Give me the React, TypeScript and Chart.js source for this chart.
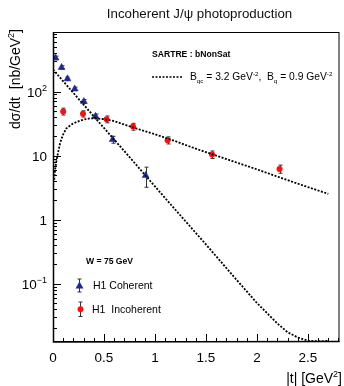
import { useEffect, useRef } from 'react';
import { Chart, registerables } from 'chart.js';

Chart.register(...registerables);

// H1 coherent J/psi points: |t| [GeV^2], dsigma/dt [nb/GeV^2], error
const coherentT = [0.025, 0.084, 0.142, 0.213, 0.303, 0.417, 0.585, 0.908];
const coherentVal = [335, 238, 158, 110, 70, 41, 17.8, 4.9];
const coherentErr = [22, 15, 10, 7, 5, 3.5, 2.2, 1.7];

// H1 incoherent J/psi points
const incoherentT = [0.1, 0.294, 0.526, 0.785, 1.124, 1.56, 2.222];
const incoherentVal = [49, 45, 37, 28.4, 17.4, 10.4, 6.2];
const incoherentErr = [6, 5, 4.5, 3.5, 2.2, 1.4, 0.9];

// SARTRE bNonSat prediction, coherent part
const sartreCohT = [0, 0.25, 0.5, 0.75, 1.0, 1.25, 1.5, 1.75, 2.0, 2.2, 2.3, 2.4, 2.5, 2.6, 2.7];
const sartreCohVal = [221, 77, 27, 9.5, 3.3, 1.16, 0.41, 0.142, 0.05, 0.024, 0.0175, 0.0145, 0.0129, 0.0126, 0.0128];

// SARTRE bNonSat prediction, incoherent part
const sartreIncT = [0.012, 0.02, 0.035, 0.05, 0.07, 0.1, 0.13, 0.18, 0.23, 0.3, 0.36, 0.42, 0.5, 0.6, 0.8, 1.0, 1.2, 1.4, 1.6, 1.8, 2.0, 2.2, 2.4, 2.6, 2.7];
const sartreIncVal = [4.2, 6.0, 8.5, 11.2, 15.8, 21.5, 26.5, 30.5, 33.5, 36.5, 38, 38, 37, 34.5, 27, 21.5, 16.8, 12.8, 10.0, 7.8, 6.1, 4.7, 3.65, 2.85, 2.53];

// axis ticks
const xMajorTicks = [0, 0.5, 1, 1.5, 2, 2.5];
const xTickLabels = ['0', '0.5', '1', '1.5', '2', '2.5'];
const yMajorTicks = [0.1, 1, 10, 100];
const yTickBase = ['10', '1', '10', '10'];
const yTickExp = ['\u22121', '', '', '2'];

const X_MIN = 0;
const X_MAX = 2.81;
const Y_MIN = 0.0123;
const Y_MAX = 850;

const FONT = '"Liberation Sans", Arial, Helvetica, sans-serif';
const NAVY = '#1f2a8c';
const RED = '#ff1010';

type Seg = { t: string; size: number; dy?: number; bold?: boolean };

function drawRich(ctx: CanvasRenderingContext2D, segs: Seg[], x: number, y: number) {
  let cx = x;
  for (const s of segs) {
    ctx.font = `${s.bold ? 'bold ' : ''}${s.size}px ${FONT}`;
    ctx.fillText(s.t, cx, y + (s.dy || 0));
    cx += ctx.measureText(s.t).width;
  }
}

function drawErrorBar(ctx: CanvasRenderingContext2D, px: number, yTop: number, yBot: number) {
  ctx.beginPath();
  ctx.moveTo(px, yTop);
  ctx.lineTo(px, yBot);
  ctx.moveTo(px - 2, yTop);
  ctx.lineTo(px + 2, yTop);
  ctx.moveTo(px - 2, yBot);
  ctx.lineTo(px + 2, yBot);
  ctx.stroke();
}

const errorBarPlugin = {
  id: 'errorBars',
  beforeDatasetsDraw(chart: any) {
    const { ctx, chartArea, scales } = chart;
    const x = scales.x;
    const y = scales.y;
    ctx.save();
    ctx.beginPath();
    ctx.rect(chartArea.left, chartArea.top, chartArea.right - chartArea.left, chartArea.bottom - chartArea.top);
    ctx.clip();
    ctx.strokeStyle = '#333';
    ctx.lineWidth = 1;
    const draw = (ts: number[], vs: number[], es: number[]) => {
      ts.forEach((t, i) => {
        const px = Math.round(x.getPixelForValue(t)) + 0.5;
        drawErrorBar(ctx, px, y.getPixelForValue(vs[i] + es[i]), y.getPixelForValue(vs[i] - es[i]));
      });
    };
    draw(coherentT, coherentVal, coherentErr);
    draw(incoherentT, incoherentVal, incoherentErr);
    ctx.restore();
  },
};

const framePlugin = {
  id: 'rootFrame',
  afterDraw(chart: any) {
    const { ctx, chartArea, scales } = chart;
    const x = scales.x;
    const y = scales.y;
    const { left, right, top, bottom } = chartArea;
    ctx.save();

    // frame
    ctx.strokeStyle = '#000';
    ctx.lineWidth = 1;
    ctx.strokeRect(left + 0.5, top + 0.5, right - left - 1, bottom - top - 1);
    ctx.lineWidth = 1.5;
    ctx.beginPath();
    ctx.moveTo(left + 0.5, top);
    ctx.lineTo(left + 0.5, bottom);
    ctx.lineTo(right, bottom - 0.5);
    ctx.stroke();

    // y ticks (log, inside)
    ctx.lineWidth = 1;
    ctx.beginPath();
    for (let e = -2; e <= 2; e++) {
      for (let m = 1; m <= 9; m++) {
        const v = m * Math.pow(10, e);
        if (v < Y_MIN || v > Y_MAX) continue;
        const py = Math.round(y.getPixelForValue(v)) + 0.5;
        const len = m === 1 ? 8 : 4;
        ctx.moveTo(left, py);
        ctx.lineTo(left + len, py);
      }
    }
    // x ticks (inside)
    for (let i = 0; i <= 28; i++) {
      const v = i / 10;
      const px = Math.round(x.getPixelForValue(v)) + 0.5;
      const len = i % 5 === 0 ? 8 : 4;
      ctx.moveTo(px, bottom);
      ctx.lineTo(px, bottom - len);
    }
    ctx.stroke();

    ctx.fillStyle = '#000';
    // x tick labels
    ctx.textAlign = 'center';
    ctx.textBaseline = 'alphabetic';
    ctx.font = `13.5px ${FONT}`;
    xMajorTicks.forEach((v, i) => {
      ctx.fillText(xTickLabels[i], x.getPixelForValue(v), 362);
    });

    // y tick labels with exponents
    yMajorTicks.forEach((v, i) => {
      const py = y.getPixelForValue(v);
      ctx.textAlign = 'left';
      ctx.font = `13.5px ${FONT}`;
      const wb = ctx.measureText(yTickBase[i]).width;
      ctx.font = `9px ${FONT}`;
      const we = yTickExp[i] ? ctx.measureText(yTickExp[i]).width : 0;
      const x0 = left - 6 - wb - we;
      drawRich(ctx, [
        { t: yTickBase[i], size: 13.5 },
        { t: yTickExp[i], size: 9, dy: -6 },
      ], x0, py + 5);
    });

    // axis titles
    ctx.textAlign = 'left';
    ctx.font = `14px ${FONT}`;
    const xt: Seg[] = [
      { t: '|t| [GeV', size: 14 },
      { t: '2', size: 9, dy: -6 },
      { t: ']', size: 14 },
    ];
    let wx = 0;
    xt.forEach((s) => { ctx.font = `${s.size}px ${FONT}`; wx += ctx.measureText(s.t).width; });
    drawRich(ctx, xt, 342 - wx, 383);

    const yt: Seg[] = [
      { t: 'd\u03c3/dt  [nb/GeV', size: 14 },
      { t: '2', size: 9, dy: -6 },
      { t: ']', size: 14 },
    ];
    let wy = 0;
    yt.forEach((s) => { ctx.font = `${s.size}px ${FONT}`; wy += ctx.measureText(s.t).width; });
    ctx.save();
    ctx.translate(20, 29);
    ctx.rotate(-Math.PI / 2);
    drawRich(ctx, yt, -wy, 0);
    ctx.restore();

    // main title
    ctx.textAlign = 'center';
    ctx.font = `13.3px ${FONT}`;
    ctx.fillStyle = '#111';
    ctx.fillText('Incoherent J/\u03c8 photoproduction', 199.5, 18);

    // annotations
    ctx.fillStyle = '#000';
    ctx.textAlign = 'left';
    drawRich(ctx, [{ t: 'SARTRE : bNonSat', size: 8.6, bold: true }], 152, 57);
    drawRich(ctx, [{ t: 'W = 75 GeV', size: 8.6, bold: true }], 86, 264);

    // model legend line
    ctx.strokeStyle = '#000';
    ctx.lineWidth = 1.6;
    ctx.setLineDash([2, 1.5]);
    ctx.beginPath();
    ctx.moveTo(152, 77);
    ctx.lineTo(182, 77);
    ctx.stroke();
    ctx.setLineDash([]);
    drawRich(ctx, [
      { t: 'B', size: 10.3 },
      { t: 'qc', size: 6.2, dy: 2.5 },
      { t: ' = 3.2 GeV', size: 10.3 },
      { t: '-2', size: 6.2, dy: -4 },
      { t: ',  B', size: 10.3 },
      { t: 'q', size: 6.2, dy: 2.5 },
      { t: ' = 0.9 GeV', size: 10.3 },
      { t: '-2', size: 6.2, dy: -4 },
    ], 190, 80);

    // data legend
    ctx.strokeStyle = '#333';
    ctx.lineWidth = 1;
    drawErrorBar(ctx, 79.5, 279, 292);
    ctx.fillStyle = NAVY;
    ctx.beginPath();
    ctx.moveTo(79.5, 281.5);
    ctx.lineTo(83.5, 288.5);
    ctx.lineTo(75.5, 288.5);
    ctx.closePath();
    ctx.fill();
    drawErrorBar(ctx, 80.5, 302, 316.5);
    ctx.fillStyle = RED;
    ctx.beginPath();
    ctx.arc(80.5, 309.3, 3, 0, Math.PI * 2);
    ctx.fill();
    ctx.fillStyle = '#000';
    drawRich(ctx, [{ t: 'H1 Coherent', size: 10.5 }], 93, 289);
    drawRich(ctx, [{ t: 'H1  Incoherent', size: 10.5 }], 92, 313);

    ctx.restore();
  },
};

export default function App() {
  const canvasRef = useRef<HTMLCanvasElement | null>(null);

  useEffect(() => {
    const canvas = canvasRef.current;
    if (!canvas) return;
    const toPts = (ts: number[], vs: number[]) => ts.map((t, i) => ({ x: t, y: vs[i] }));
    const chart = new Chart(canvas, {
      type: 'scatter',
      data: {
        datasets: [
          {
            label: 'SARTRE incoherent',
            data: toPts(sartreIncT, sartreIncVal),
            showLine: true,
            borderColor: '#000',
            borderWidth: 1.8,
            borderDash: [2, 1.5],
            pointRadius: 0,
            tension: 0,
          },
          {
            label: 'SARTRE coherent',
            data: toPts(sartreCohT, sartreCohVal),
            showLine: true,
            borderColor: '#000',
            borderWidth: 1.8,
            borderDash: [2, 1.5],
            pointRadius: 0,
            tension: 0,
          },
          {
            label: 'H1 Coherent',
            data: toPts(coherentT, coherentVal),
            pointStyle: 'triangle',
            pointRadius: 4,
            backgroundColor: NAVY,
            borderColor: NAVY,
            borderWidth: 0.5,
          },
          {
            label: 'H1 Incoherent',
            data: toPts(incoherentT, incoherentVal),
            pointStyle: 'circle',
            pointRadius: 3,
            backgroundColor: RED,
            borderColor: RED,
            borderWidth: 0,
          },
        ],
      },
      options: {
        responsive: false,
        animation: false,
        devicePixelRatio: 1,
        layout: { padding: { left: 0, right: 1, top: 32, bottom: 0 } },
        plugins: {
          legend: { display: false },
          tooltip: { enabled: false },
          title: { display: false },
        },
        scales: {
          x: {
            type: 'linear',
            min: X_MIN,
            max: X_MAX,
            grid: { display: false, drawTicks: false },
            border: { display: false },
            ticks: { display: false },
            afterFit: (s: any) => { s.height = 44; },
          },
          y: {
            type: 'logarithmic',
            min: Y_MIN,
            max: Y_MAX,
            grid: { display: false, drawTicks: false },
            border: { display: false },
            ticks: { display: false },
            afterFit: (s: any) => { s.width = 53; },
          },
        },
      },
      plugins: [errorBarPlugin, framePlugin],
    });
    return () => chart.destroy();
  }, []);

  return (
    <div style={{ position: 'absolute', left: 0, top: 0, width: 344, height: 386, background: '#fff' }}>
      <canvas ref={canvasRef} width={344} height={386} />
    </div>
  );
}
